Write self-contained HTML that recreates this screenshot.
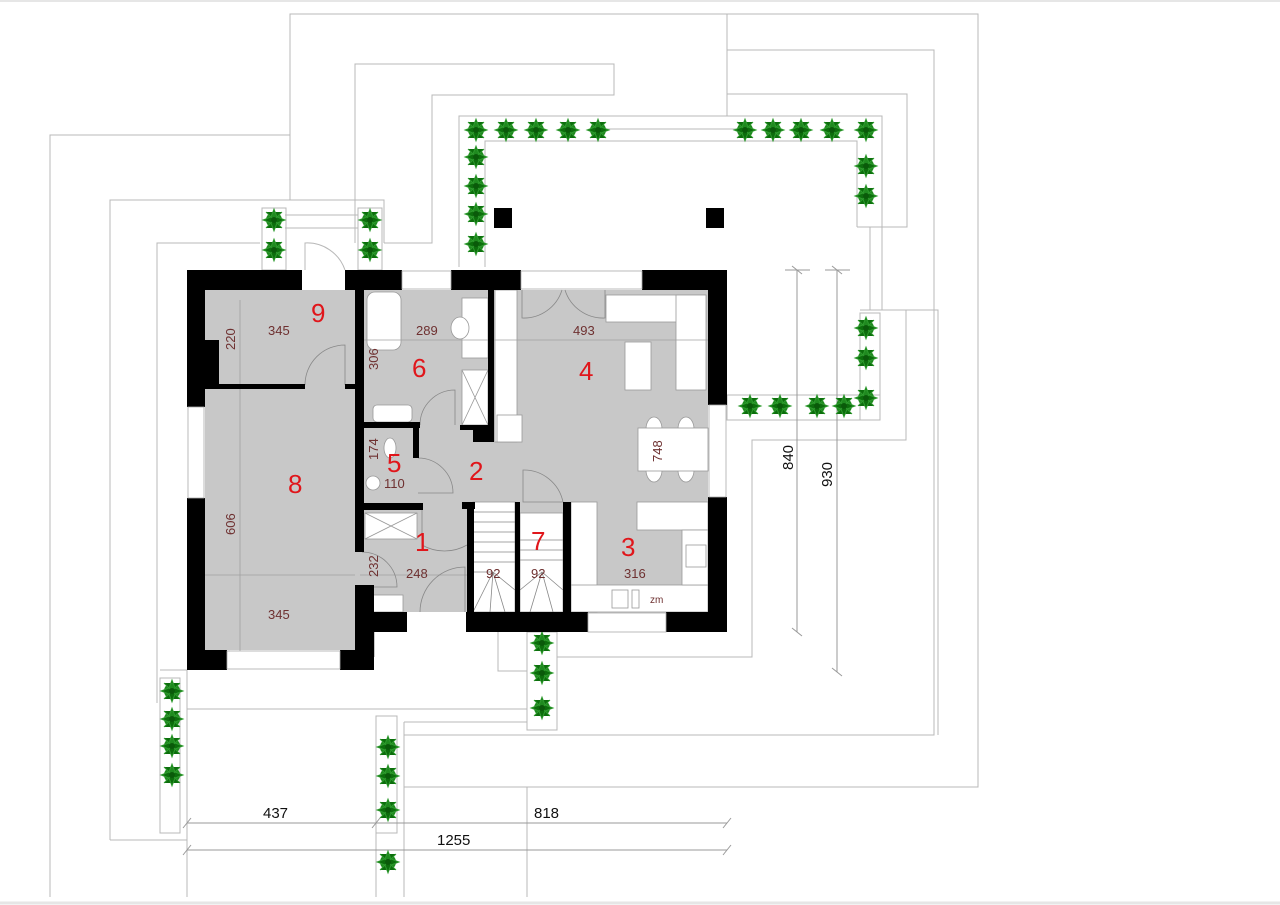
<!DOCTYPE html>
<html><head><meta charset="utf-8"><style>
html,body{margin:0;padding:0;background:#fff;}
svg{display:block;}
text{font-family:"Liberation Sans",sans-serif;}
.r{fill:#e0161b;font-size:26px;}
.d{fill:#6e3030;font-size:13px;}
.k{fill:#111;font-size:15px;}
</style></head><body>
<svg width="1280" height="905" viewBox="0 0 1280 905" xmlns="http://www.w3.org/2000/svg">
<defs>
<g id="p"><circle r="8" fill="#1f8a1f"/><path d="M0,-11 L3,-3 L11,0 L3,3 L0,11 L-3,3 L-11,0 L-3,-3Z M-8,-8 L0,0 L8,-8 M-8,8 L0,0 L8,8" fill="#0c6e0c" stroke="#2e9a2e" stroke-width="1"/><circle r="3" fill="#0a5a0a"/></g>
</defs>
<rect width="1280" height="905" fill="#fff"/>
<line x1="0" y1="1" x2="1280" y2="1" stroke="#e6e6e6" stroke-width="2"/>
<line x1="0" y1="903" x2="1280" y2="903" stroke="#e6e6e6" stroke-width="3"/>
<g fill="none" stroke="#b8b8b8" stroke-width="1">
<polyline points="290,200 290,14 978,14 978,787 404,787"/>
<polyline points="50,897 50,135 290,135"/>
<polyline points="110,840 110,200 384,200 384,243"/>
<polyline points="157,703 157,243 260,243"/>
<polyline points="355,243 355,64 614,64 614,95 432,95 432,243 384,243"/>
<polyline points="727,116 727,14"/>
<polyline points="727,50 934,50 934,735 404,735"/>
<polyline points="727,94 907,94 907,227 857,227"/>
<polyline points="459,267 459,116 882,116 882,227"/>
<polyline points="485,267 485,141 857,141 857,227"/>
<line x1="598" y1="129" x2="745" y2="129"/>
<line x1="870" y1="227" x2="870" y2="310"/><line x1="882" y1="227" x2="882" y2="310"/>
<polyline points="860,310 938,310 938,735"/>
<polyline points="906,310 906,440 752,440 752,657 557,657"/>
<rect x="860" y="313" width="20" height="107"/>
<rect x="727" y="395" width="153" height="25"/>
<polyline points="160,670 187,670"/>
<rect x="160" y="678" width="20" height="155"/>
<polyline points="187,709 527,709"/>
<polyline points="404,722 527,722"/>
<rect x="376" y="716" width="21" height="117"/>
<rect x="527" y="632" width="30" height="98"/>
<polyline points="498,632 498,671 527,671"/>
<line x1="187" y1="670" x2="187" y2="897"/>
<line x1="376" y1="833" x2="376" y2="897"/><line x1="404" y1="722" x2="404" y2="897"/>
<line x1="527" y1="787" x2="527" y2="897"/>
<line x1="110" y1="840" x2="187" y2="840"/>
<rect x="262" y="208" width="24" height="62"/><rect x="358" y="208" width="24" height="62"/>
<line x1="285" y1="215" x2="358" y2="215"/><line x1="285" y1="228" x2="358" y2="228"/>
<line x1="404" y1="243" x2="432" y2="243"/>
<path d="M305,270 L305,243 A40,40 0 0 1 345,270" />
</g>
<g stroke="#999" stroke-width="1" fill="none">
<line x1="187" y1="823" x2="727" y2="823"/><line x1="187" y1="850" x2="727" y2="850"/>
<line x1="797" y1="270" x2="797" y2="632"/><line x1="837" y1="270" x2="837" y2="672"/>
<line x1="183" y1="828" x2="191" y2="818"/><line x1="372" y1="828" x2="380" y2="818"/><line x1="723" y1="828" x2="731" y2="818"/>
<line x1="183" y1="855" x2="191" y2="845"/><line x1="723" y1="855" x2="731" y2="845"/>
<line x1="792" y1="266" x2="802" y2="274"/><line x1="792" y1="628" x2="802" y2="636"/>
<line x1="832" y1="266" x2="842" y2="274"/><line x1="832" y1="668" x2="842" y2="676"/>
<line x1="785" y1="270" x2="810" y2="270"/><line x1="825" y1="270" x2="850" y2="270"/>
</g>
<text class="k" x="263" y="818">437</text><text class="k" x="534" y="818">818</text><text class="k" x="437" y="845">1255</text>
<text class="k" transform="translate(793,470) rotate(-90)">840</text>
<text class="k" transform="translate(832,487) rotate(-90)">930</text>
<rect x="494" y="208" width="18" height="20" fill="#000"/><rect x="706" y="208" width="18" height="20" fill="#000"/>
<g>
<use href="#p" x="476" y="130"/><use href="#p" x="506" y="130"/><use href="#p" x="536" y="130"/><use href="#p" x="568" y="130"/><use href="#p" x="598" y="130"/>
<use href="#p" x="476" y="157"/><use href="#p" x="476" y="186"/><use href="#p" x="476" y="214"/><use href="#p" x="476" y="244"/>
<use href="#p" x="745" y="130"/><use href="#p" x="773" y="130"/><use href="#p" x="801" y="130"/><use href="#p" x="832" y="130"/><use href="#p" x="866" y="130"/>
<use href="#p" x="866" y="166"/><use href="#p" x="866" y="196"/>
<use href="#p" x="866" y="328"/><use href="#p" x="866" y="358"/><use href="#p" x="866" y="398"/>
<use href="#p" x="750" y="406"/><use href="#p" x="780" y="406"/><use href="#p" x="817" y="406"/><use href="#p" x="844" y="406"/>
<use href="#p" x="274" y="220"/><use href="#p" x="274" y="250"/><use href="#p" x="370" y="220"/><use href="#p" x="370" y="250"/>
<use href="#p" x="542" y="643"/><use href="#p" x="542" y="673"/><use href="#p" x="542" y="708"/>
<use href="#p" x="172" y="691"/><use href="#p" x="172" y="719"/><use href="#p" x="172" y="746"/><use href="#p" x="172" y="775"/>
<use href="#p" x="388" y="747"/><use href="#p" x="388" y="776"/><use href="#p" x="388" y="810"/><use href="#p" x="388" y="862"/>
</g>
<rect x="205" y="290" width="503" height="322" fill="#c8c8c8"/>
<rect x="205" y="612" width="170" height="45" fill="#c8c8c8"/>
<rect x="227" y="650" width="113" height="12" fill="#fff"/>
<g fill="#fff" stroke="#999" stroke-width="0.8">
<rect x="367" y="292" width="34" height="58" rx="8"/>
<rect x="462" y="298" width="26" height="60"/>
<ellipse cx="460" cy="328" rx="9" ry="11"/>
<rect x="462" y="370" width="26" height="55"/>
<path d="M462,370 L488,425 M488,370 L462,425"/>
<rect x="373" y="405" width="39" height="17" rx="4"/>
<rect x="495" y="290" width="22" height="152"/>
<rect x="497" y="415" width="25" height="27"/>
<rect x="606" y="295" width="100" height="27"/>
<rect x="676" y="295" width="30" height="95"/>
<rect x="625" y="342" width="26" height="48"/>
<ellipse cx="654" cy="429" rx="8" ry="12"/><ellipse cx="686" cy="429" rx="8" ry="12"/>
<ellipse cx="654" cy="470" rx="8" ry="12"/><ellipse cx="686" cy="470" rx="8" ry="12"/>
<rect x="638" y="428" width="70" height="43"/>
<rect x="365" y="513" width="52" height="26"/>
<path d="M365,513 L417,539 M417,513 L365,539"/>
<rect x="365" y="595" width="38" height="17"/>
<rect x="365" y="428" width="48" height="75" fill="#c8c8c8" stroke="none"/>
<ellipse cx="390" cy="448" rx="6" ry="10"/>
<circle cx="373" cy="483" r="7"/>
<rect x="473" y="502" width="42" height="110"/>
<rect x="520" y="513" width="43" height="99"/>
<rect x="571" y="502" width="26" height="110"/>
<rect x="571" y="585" width="137" height="27"/>
<rect x="637" y="502" width="71" height="28"/>
<rect x="682" y="530" width="26" height="55"/>
<rect x="686" y="545" width="20" height="22"/>
<rect x="612" y="590" width="16" height="18"/><rect x="632" y="590" width="7" height="18"/>
</g>
<g stroke="#888" stroke-width="0.8" fill="none">
<path d="M473,512 H515 M473,522 H515 M473,532 H515 M473,542 H515 M473,552 H515 M473,562 H515 M473,572 H493"/>
<path d="M493,572 L473,612 M493,572 L490,612 M493,572 L505,612 M493,572 L515,590 M520,590 L542,572 L563,590 M542,572 L530,612 M542,572 L553,612 M520,560 H563 M520,550 H563 M520,540 H563"/>
<path d="M355,340 H708" stroke="#a0a0a0"/>
<path d="M240,300 V655" stroke="#a0a0a0"/>
<path d="M205,575 H355 M360,575 H470" stroke="#a0a0a0"/>
<path d="M305,385 A40,40 0 0 1 345,345 V385"/>
<path d="M420,425 A35,35 0 0 1 455,390 V425"/>
<path d="M418,458 A35,35 0 0 1 453,493 H418"/>
<path d="M422,510 V545 A45,45 0 0 0 467,545"/>
<path d="M362,552 A35,35 0 0 1 397,587 H362"/>
<path d="M420,612 A45,45 0 0 1 465,567 V612"/>
<path d="M523,470 A40,40 0 0 1 563,502 H523 Z" />
<path d="M522,290 V318 A40,40 0 0 0 562,290 M605,290 V318 A40,40 0 0 1 565,290"/>
</g>
<g fill="#000">
<rect x="187" y="270" width="115" height="20"/>
<rect x="345" y="270" width="57" height="20"/>
<rect x="451" y="270" width="70" height="20"/>
<rect x="642" y="270" width="85" height="20"/>
<rect x="187" y="270" width="18" height="137"/>
<rect x="205" y="340" width="14" height="48"/>
<rect x="187" y="498" width="18" height="172"/>
<rect x="187" y="650" width="40" height="20"/>
<rect x="340" y="650" width="34" height="20"/>
<rect x="355" y="585" width="19" height="85"/>
<rect x="355" y="612" width="52" height="20"/>
<rect x="466" y="612" width="122" height="20"/>
<rect x="666" y="612" width="61" height="20"/>
<rect x="708" y="270" width="19" height="135"/>
<rect x="708" y="497" width="19" height="135"/>
<rect x="205" y="384" width="100" height="5"/>
<rect x="345" y="384" width="17" height="5"/>
<rect x="355" y="290" width="9" height="262"/>
<rect x="488" y="290" width="6" height="152"/>
<rect x="473" y="425" width="21" height="17"/>
<rect x="460" y="425" width="15" height="5"/>
<rect x="355" y="422" width="65" height="6"/>
<rect x="413" y="422" width="6" height="36"/>
<rect x="355" y="503" width="68" height="7"/>
<rect x="462" y="502" width="13" height="7"/>
<rect x="467" y="502" width="7" height="130"/>
<rect x="515" y="502" width="5" height="110"/>
<rect x="563" y="502" width="8" height="110"/>
</g>
<g fill="#fff" stroke="#aaa" stroke-width="0.8">
<rect x="302" y="270" width="43" height="18" stroke="none"/>
<rect x="402" y="271" width="49" height="18"/>
<rect x="521" y="271" width="121" height="18"/>
<rect x="188" y="407" width="16" height="91"/>
<rect x="709" y="405" width="17" height="92"/>
<rect x="588" y="613" width="78" height="19"/>
<rect x="227" y="651" width="113" height="18"/>
<rect x="407" y="613" width="59" height="18" stroke="none"/>
</g>
<text class="r" x="311" y="322">9</text>
<text class="r" x="412" y="377">6</text>
<text class="r" x="579" y="380">4</text>
<text class="r" x="387" y="472">5</text>
<text class="r" x="469" y="480">2</text>
<text class="r" x="288" y="493">8</text>
<text class="r" x="415" y="551">1</text>
<text class="r" x="531" y="550">7</text>
<text class="r" x="621" y="556">3</text>
<text class="d" x="268" y="335">345</text>
<text class="d" x="416" y="335">289</text>
<text class="d" x="573" y="335">493</text>
<text class="d" x="384" y="488">110</text>
<text class="d" x="406" y="578">248</text>
<text class="d" x="486" y="578">92</text>
<text class="d" x="531" y="578">92</text>
<text class="d" x="624" y="578">316</text>
<text class="d" x="268" y="619">345</text>
<text class="d" x="650" y="603" style="font-size:10px">zm</text>
<text class="d" transform="translate(235,350) rotate(-90)">220</text>
<text class="d" transform="translate(378,370) rotate(-90)">306</text>
<text class="d" transform="translate(378,460) rotate(-90)">174</text>
<text class="d" transform="translate(662,462) rotate(-90)">748</text>
<text class="d" transform="translate(235,535) rotate(-90)">606</text>
<text class="d" transform="translate(378,577) rotate(-90)">232</text>
</svg>
</body></html>
